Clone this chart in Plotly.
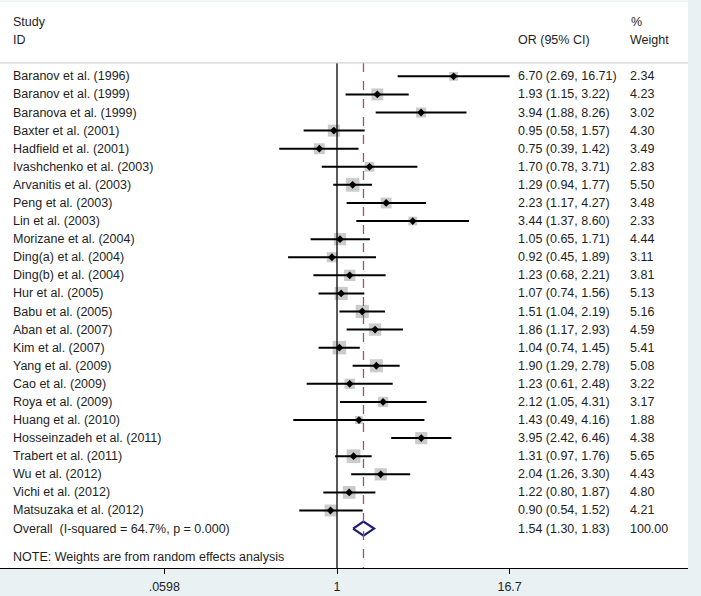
import math
import plotly.graph_objects as go

studies = ["Baranov et al. (1996)", "Baranov et al. (1999)", "Baranova et al. (1999)",
           "Baxter et al. (2001)", "Hadfield et al. (2001)", "Ivashchenko et al. (2003)",
           "Arvanitis et al. (2003)", "Peng et al. (2003)", "Lin et al. (2003)",
           "Morizane et al. (2004)", "Ding(a) et al. (2004)", "Ding(b) et al. (2004)",
           "Hur et al. (2005)", "Babu et al. (2005)", "Aban et al. (2007)",
           "Kim et al. (2007)", "Yang et al. (2009)", "Cao et al. (2009)",
           "Roya et al. (2009)", "Huang et al. (2010)", "Hosseinzadeh et al. (2011)",
           "Trabert et al. (2011)", "Wu et al. (2012)", "Vichi et al. (2012)",
           "Matsuzaka et al. (2012)"]
or_vals = [6.70, 1.93, 3.94, 0.95, 0.75, 1.70, 1.29, 2.23, 3.44, 1.05, 0.92, 1.23, 1.07,
           1.51, 1.86, 1.04, 1.90, 1.23, 2.12, 1.43, 3.95, 1.31, 2.04, 1.22, 0.90]
ci_low = [2.69, 1.15, 1.88, 0.58, 0.39, 0.78, 0.94, 1.17, 1.37, 0.65, 0.45, 0.68, 0.74,
          1.04, 1.17, 0.74, 1.29, 0.61, 1.05, 0.49, 2.42, 0.97, 1.26, 0.80, 0.54]
ci_high = [16.71, 3.22, 8.26, 1.57, 1.42, 3.71, 1.77, 4.27, 8.60, 1.71, 1.89, 2.21, 1.56,
           2.19, 2.93, 1.45, 2.78, 2.48, 4.31, 4.16, 6.46, 1.76, 3.30, 1.87, 1.52]
weights = [2.34, 4.23, 3.02, 4.30, 3.49, 2.83, 5.50, 3.48, 2.33, 4.44, 3.11, 3.81, 5.13,
           5.16, 4.59, 5.41, 5.08, 3.22, 3.17, 1.88, 4.38, 5.65, 4.43, 4.80, 4.21]
overall_label = "Overall&nbsp;&nbsp;(I-squared = 64.7%, p = 0.000)"
overall = [1.54, 1.30, 1.83]
overall_weight = "100.00"
note = "NOTE: Weights are from random effects analysis"
tick_vals = [0.0598, 1, 16.7]
tick_text = [".0598", "1", "16.7"]

FONT = "Liberation Sans, Arial, sans-serif"
FS = 12.5
TXT = "#1e1e1e"
n = len(studies)
rows = list(range(n))
overall_row = n
note_row = n + 1.57
sep_row = -0.74
y_top, y_bot = -4.22, 27.18

fig = go.Figure()

# grey weight squares
fig.add_trace(go.Scatter(
    x=or_vals, y=rows, mode="markers",
    marker=dict(symbol="square", size=[5.8 * math.sqrt(w) for w in weights],
                color="#b5b5b5", line=dict(width=0)),
    hoverinfo="skip", showlegend=False))

# CI lines
lx, ly = [], []
for i in rows:
    lx += [ci_low[i], ci_high[i], None]
    ly += [i, i, None]
fig.add_trace(go.Scatter(x=lx, y=ly, mode="lines", line=dict(color="black", width=2),
                         hoverinfo="skip", showlegend=False))

# point estimates
fig.add_trace(go.Scatter(
    x=or_vals, y=rows, mode="markers",
    marker=dict(symbol="diamond", size=6, color="black"),
    hoverinfo="skip", showlegend=False))

# overall diamond
h = 0.39
fig.add_trace(go.Scatter(
    x=[overall[1], overall[0], overall[2], overall[0], overall[1]],
    y=[overall_row, overall_row - h, overall_row, overall_row + h, overall_row],
    mode="lines", line=dict(color="#1c1c7c", width=2.2),
    hoverinfo="skip", showlegend=False))

shapes = [
    dict(type="line", xref="x", yref="y", x0=1, x1=1, y0=sep_row, y1=y_bot,
         line=dict(color="black", width=1.3)),
    dict(type="line", xref="x", yref="y", x0=overall[0], x1=overall[0], y0=sep_row, y1=y_bot,
         line=dict(color="#a0506a", width=1.3, dash="dash")),
    dict(type="line", xref="paper", yref="y", x0=0, x1=1, y0=sep_row, y1=sep_row,
         line=dict(color="#c8c8c8", width=1)),
    dict(type="line", xref="paper", yref="paper", x0=0, x1=1, y0=0.998, y1=0.998,
         line=dict(color="#e4ecee", width=1)),
]

ann = []
def txt(x, y, s):
    ann.append(dict(x=x, y=y, xref="paper", yref="y", text=s, showarrow=False,
                    xanchor="left", yanchor="middle", xshift=-1,
                    font=dict(family=FONT, size=FS, color=TXT)))

x_name, x_or, x_w = 12 / 688, 517 / 688, 629 / 688
txt(x_name, -3.0, "Study")
txt(x_name, -1.99, "ID")
txt(x_or, -1.99, "OR (95% CI)")
txt(630 / 688, -3.0, "%")
txt(x_w, -1.99, "Weight")
for i in rows:
    txt(x_name, i, studies[i])
    txt(x_or, i, f"{or_vals[i]:.2f} ({ci_low[i]:.2f}, {ci_high[i]:.2f})")
    txt(x_w, i, f"{weights[i]:.2f}")
txt(x_name, overall_row, overall_label)
txt(x_or, overall_row, f"{overall[0]:.2f} ({overall[1]:.2f}, {overall[2]:.2f})")
txt(x_w, overall_row, overall_weight)
txt(x_name, note_row, note)

fig.update_layout(
    width=701, height=596,
    margin=dict(l=0, r=13, t=0, b=28),
    paper_bgcolor="#eaf1f3", plot_bgcolor="white",
    shapes=shapes, annotations=ann,
    xaxis=dict(type="log", range=[-2.387, 2.486], showgrid=False, zeroline=False,
               showline=True, linecolor="black", linewidth=1.3,
               ticks="outside", ticklen=5, tickcolor="black", ticklabelstandoff=2,
               tickvals=tick_vals, ticktext=tick_text,
               tickfont=dict(family=FONT, size=FS, color=TXT), fixedrange=True),
    yaxis=dict(range=[y_bot, y_top], showgrid=False, zeroline=False, showline=False,
               showticklabels=False, ticks="", fixedrange=True),
)

fig.write_html("out.html", config={"displayModeBar": False},
               post_script="document.body.style.margin='0';")
